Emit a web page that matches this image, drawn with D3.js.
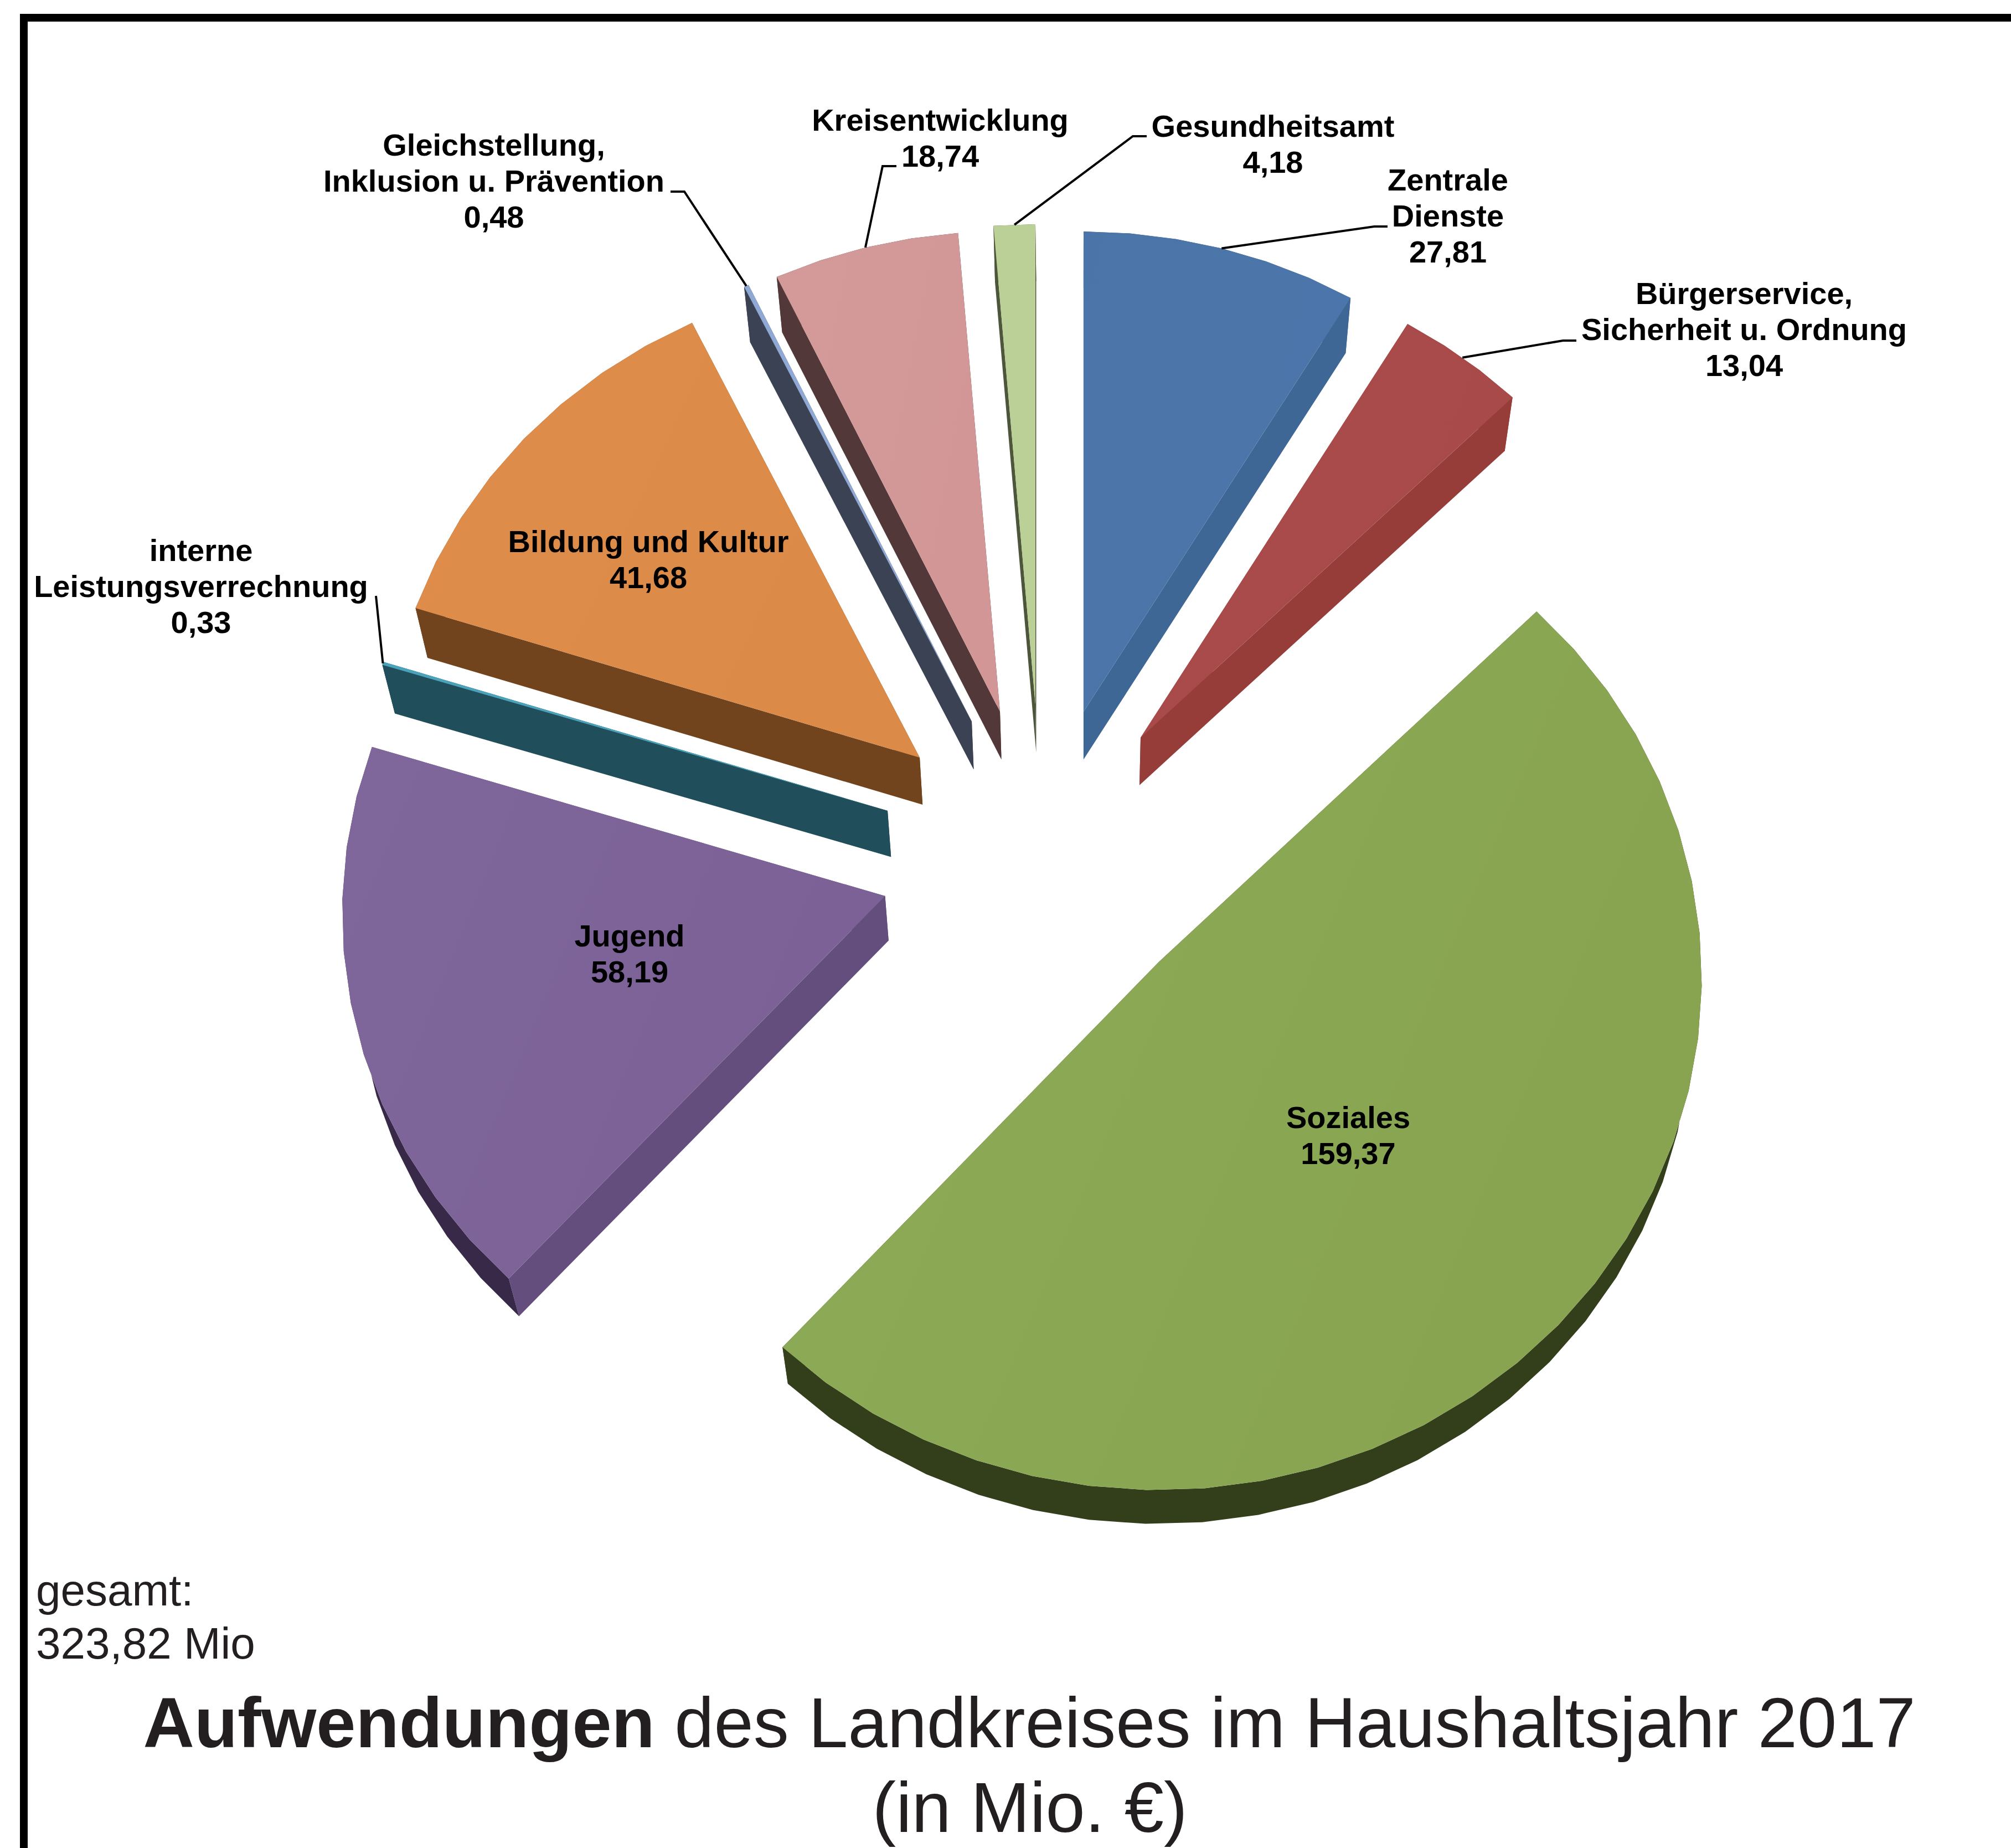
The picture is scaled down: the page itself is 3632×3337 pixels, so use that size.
<!DOCTYPE html>
<html lang="de">
<head>
<meta charset="utf-8">
<title>Aufwendungen des Landkreises im Haushaltsjahr 2017</title>
<script src="https://cdn.jsdelivr.net/npm/d3@7/dist/d3.min.js"></script>
<style>
html,body{margin:0;padding:0;background:#fff}
svg{display:block}
text{font-family:"Liberation Sans",Arial,sans-serif}
</style>
</head>
<body>
<svg id="chart" width="3632" height="3337" viewBox="0 0 3632 3337"></svg>
<script>
// ---------- data (pie order, clockwise from 12 o'clock) ----------
const categories = [
  ["Zentrale","Dienste"],
  ["Bürgerservice,","Sicherheit u. Ordnung"],
  ["Soziales"],
  ["Jugend"],
  ["interne","Leistungsverrechnung"],
  ["Bildung und Kultur"],
  ["Gleichstellung,","Inklusion u. Prävention"],
  ["Kreisentwicklung"],
  ["Gesundheitsamt"]
];
const values = [27.81, 13.04, 159.37, 58.19, 0.33, 41.68, 0.48, 18.74, 4.18];
const totalLabel = ["gesamt:", "323,82 Mio"];
const titleBold = "Aufwendungen";
const titleRest = " des Landkreises im Haushaltsjahr 2017";
const titleLine2 = "(in Mio. €)";

// ---------- styles ----------
const topFrom  = ["#4b74a8","#a94b4b","#8dab58","#80679b","#4aa3bb","#e08d4b","#8fa9d4","#d49a9a","#bad097"];
const topTo    = ["#4c76ab","#a84a49","#88a451","#7b6195","#4aa3bb","#db8a48","#8fa9d4","#d29696","#bad097"];
const cutWall  = ["#3e6796","#963d3a","#45522a","#644e7e","#214e5b","#71441e","#3a4254","#533839","#4d563b"];
const rimFrom  = ["#3e6796","#963d3a","#4a5830","#4e3c66","#214e5b","#71441e","#3a4254","#533839","#4d563b"];
const rimTo    = ["#3e6796","#963d3a","#333f1b","#382948","#214e5b","#71441e","#3a4254","#533839","#4d563b"];

// ---------- layout ----------
const pieCentre = {x:1880, y:1400};
const explodeX = [77, 180, 213, -281.5, -277, -219, -125, -74, -10];
const explodeY = [-115, -68, 337, 218, 64, -32, -97, -115, -128];
const radiusX  = [965, 965, 980, 980, 965, 965, 965, 965, 965];
const tilt     = [.928,.928,.941,.934,.928,.932,.932,.928,.928];
const persp = 0.033;                        // foreshortening of the far rim
const vanish = {x:1950, y:6090}, extrude = 0.018;   // depth direction
const stepDeg = 6;
const labelSize = 56, lineStep = 65;
// label centre x, first baseline; leader: label end, elbow (both optional)
const labelPos = [
  {x:2615,y:344,  lead:[[2506,409],[2482,409]]},
  {x:3150,y:549,  lead:[[2847,615],[2823,615]]},
  {x:2435,y:2037},
  {x:1137,y:1709},
  {x:363, y:1013, lead:[[679,1076]]},
  {x:1171,y:997},
  {x:892, y:281,  lead:[[1211,346],[1236,346]]},
  {x:1698,y:236,  lead:[[1619,300],[1594,300]]},
  {x:2299,y:247,  lead:[[2071,246],[2046,246]]}
];

const svg = d3.select("#chart");
const defs = svg.append("defs");
const fmt = d3.formatLocale({decimal:",",thousands:".",grouping:[3],currency:["","€"]}).format(".2f");

const arcs = d3.pie().sort(null).startAngle(0).endAngle(2*Math.PI)(values);
const line = d3.line();

function rimPoint(i, t){
  const s = 1/(1+persp*Math.cos(t));
  return [pieCentre.x+explodeX[i] + radiusX[i]*Math.sin(t)*s,
          pieCentre.y+explodeY[i] - radiusX[i]*tilt[i]*Math.cos(t)*s];
}
const down = p => [p[0]+(vanish.x-p[0])*extrude, p[1]+(vanish.y-p[1])*extrude];

function gradient(id, a, b, stop){
  const g = defs.append("linearGradient").attr("id",id).attr("x1",0).attr("x2",1).attr("y1",0).attr("y2",0.4);
  g.append("stop").attr("offset",0).attr("stop-color",a);
  g.append("stop").attr("offset",stop).attr("stop-color",b);
  return `url(#${id})`;
}

// slices
const layer = svg.append("g");
arcs.forEach((d,i)=>{
  const apex = [pieCentre.x+explodeX[i], pieCentre.y+explodeY[i]];
  const n = Math.max(1, Math.ceil((d.endAngle-d.startAngle)/(stepDeg*Math.PI/180)));
  const angles = d3.range(n+1).map(k=>d.startAngle+(d.endAngle-d.startAngle)*k/n);
  const rim = angles.map(t=>rimPoint(i,t));
  const g = layer.append("g").attr("class","slice");
  // cut walls
  [rim[0], rim[n]].forEach(p=>{
    g.append("path").attr("d", line([apex,p,down(p),down(apex)])+"Z").attr("fill",cutWall[i]);
  });
  // outer wall
  g.append("path").attr("d", line(rim.concat(rim.map(down).reverse()))+"Z")
    .attr("fill", gradient("rim"+i, rimFrom[i], rimTo[i], 0.3));
  // top face
  g.append("path").attr("d", line([apex].concat(rim))+"Z")
    .attr("fill", gradient("top"+i, topFrom[i], topTo[i], 1));
});

// leaders
arcs.forEach((d,i)=>{
  if(!labelPos[i].lead) return;
  const end = rimPoint(i,(d.startAngle+d.endAngle)/2);
  svg.append("path").attr("d", line(labelPos[i].lead.concat([end])))
    .attr("fill","none").attr("stroke","#000").attr("stroke-width",4);
});

// slice labels
arcs.forEach((d,i)=>{
  const lines = categories[i].concat([fmt(d.value)]);
  const t = svg.append("text").attr("text-anchor","middle").attr("font-weight",700)
    .attr("font-size",labelSize).attr("fill","#000");
  lines.forEach((s,k)=>t.append("tspan").attr("x",labelPos[i].x).attr("y",labelPos[i].y+k*lineStep).text(s));
});

// total
svg.selectAll("text.total").data(totalLabel).join("text").attr("class","total")
  .attr("x",65).attr("y",(d,i)=>2899+i*96).attr("font-size",80).attr("fill","#231f20").text(d=>d);

// title
const title = svg.append("text").attr("text-anchor","middle").attr("x",1859).attr("y",3155)
  .attr("font-size",128).attr("fill","#231f20").attr("xml:space","preserve").style("white-space","pre");
title.append("tspan").attr("font-weight",700).text(titleBold);
title.append("tspan").text(titleRest);
svg.append("text").attr("text-anchor","middle").attr("x",1860).attr("y",3308)
  .attr("font-size",128).attr("fill","#231f20").text(titleLine2);

// frame
svg.append("path").attr("d", line([[43,3337],[43,32],[3632,32]]))
  .attr("fill","none").attr("stroke","#000").attr("stroke-width",14);
</script>
</body>
</html>
